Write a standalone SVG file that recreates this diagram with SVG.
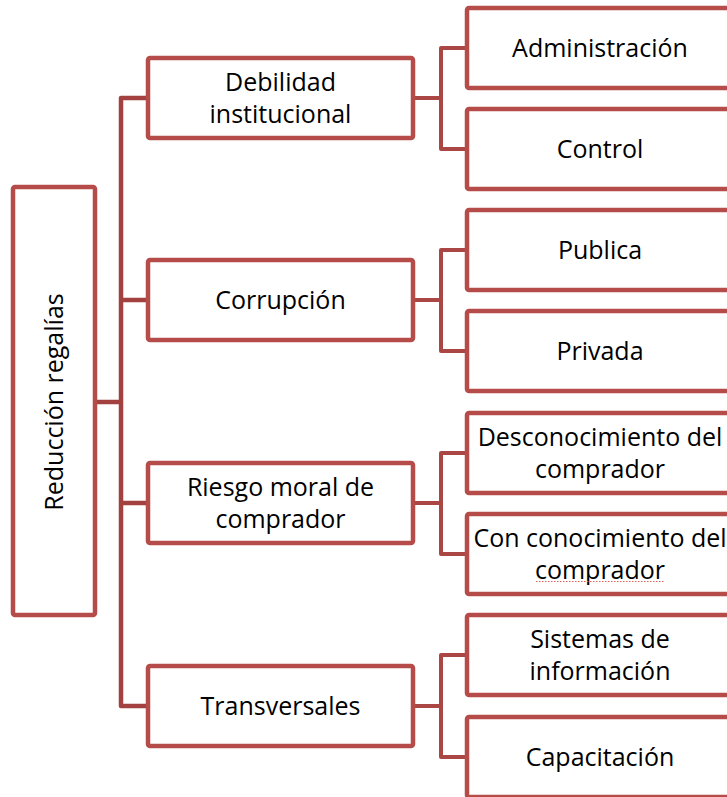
<svg xmlns="http://www.w3.org/2000/svg" width="727" height="797" viewBox="0 0 727 797">
<style>
  .box { fill: #ffffff; stroke: #B54C49; stroke-width: 4.5; }
  .conn { fill: none; stroke: #AA4744; stroke-width: 4; stroke-linejoin: round; }
  .trunk { fill: none; stroke: #A2413F; stroke-width: 4.5; stroke-linejoin: round; }
  text { font-family: "Open Sans", "Noto Sans", sans-serif; font-size: 25px; fill: #000000; text-anchor: middle; }
</style>
<rect width="727" height="797" fill="#ffffff"/>
<g id="connectors">
  <path class="trunk" d="M148,98 H121 V706 H148"/>
  <path class="trunk" d="M121,300 H148 M121,503 H148 M95,402 H121"/>
  <path class="conn" d="M413,98 H441 M467,48 H441 V149 H467"/>
  <path class="conn" d="M413,300 H441 M467,250 H441 V351 H467"/>
  <path class="conn" d="M413,503 H441 M467,453 H441 V554 H467"/>
  <path class="conn" d="M413,706 H441 M467,655 H441 V757 H467"/>
</g>
<g id="root">
  <rect class="box" x="13" y="187" width="82" height="428" rx="2"/>
  <text transform="translate(63,402) rotate(-90)" x="0" y="0">Reducción regalías</text>
</g>
<g id="debilidad">
  <rect class="box" x="148" y="58" width="265" height="80" rx="2"/>
  <text x="280.5" y="90.5">Debilidad</text>
  <text x="280.5" y="122.5">institucional</text>
</g>
<g id="corrupcion">
  <rect class="box" x="148" y="260" width="265" height="80" rx="2"/>
  <text x="280.5" y="308.5">Corrupción</text>
</g>
<g id="riesgo">
  <rect class="box" x="148" y="463" width="265" height="80" rx="2"/>
  <text x="280.5" y="495.5">Riesgo moral de</text>
  <text x="280.5" y="527.5">comprador</text>
</g>
<g id="transversales">
  <rect class="box" x="148" y="666" width="265" height="80" rx="2"/>
  <text x="280.5" y="714.5">Transversales</text>
</g>
<g id="administracion">
  <rect class="box" x="467" y="8" width="266" height="80" rx="2"/>
  <text x="600" y="56.5">Administración</text>
</g>
<g id="control">
  <rect class="box" x="467" y="109" width="266" height="80" rx="2"/>
  <text x="600" y="157.5">Control</text>
</g>
<g id="publica">
  <rect class="box" x="467" y="210" width="266" height="80" rx="2"/>
  <text x="600" y="258.5">Publica</text>
</g>
<g id="privada">
  <rect class="box" x="467" y="311" width="266" height="80" rx="2"/>
  <text x="600" y="359.5">Privada</text>
</g>
<g id="desconocimiento">
  <rect class="box" x="467" y="413" width="266" height="80" rx="2"/>
  <text x="600" y="445.5">Desconocimiento del</text>
  <text x="600" y="477.5">comprador</text>
</g>
<g id="conocimiento">
  <rect class="box" x="467" y="514" width="266" height="80" rx="2"/>
  <text x="600" y="546.5">Con conocimiento del</text>
  <text x="600" y="578.5">comprador</text>
  <path d="M536,581.5 H665" fill="none" stroke="#E06060" stroke-width="1" stroke-dasharray="1.5 1.5"/>
</g>
<g id="sistemas">
  <rect class="box" x="467" y="615" width="266" height="80" rx="2"/>
  <text x="600" y="647.5">Sistemas de</text>
  <text x="600" y="679.5">información</text>
</g>
<g id="capacitacion">
  <rect class="box" x="467" y="717" width="266" height="80" rx="2"/>
  <text x="600" y="765.5">Capacitación</text>
</g>
</svg>
